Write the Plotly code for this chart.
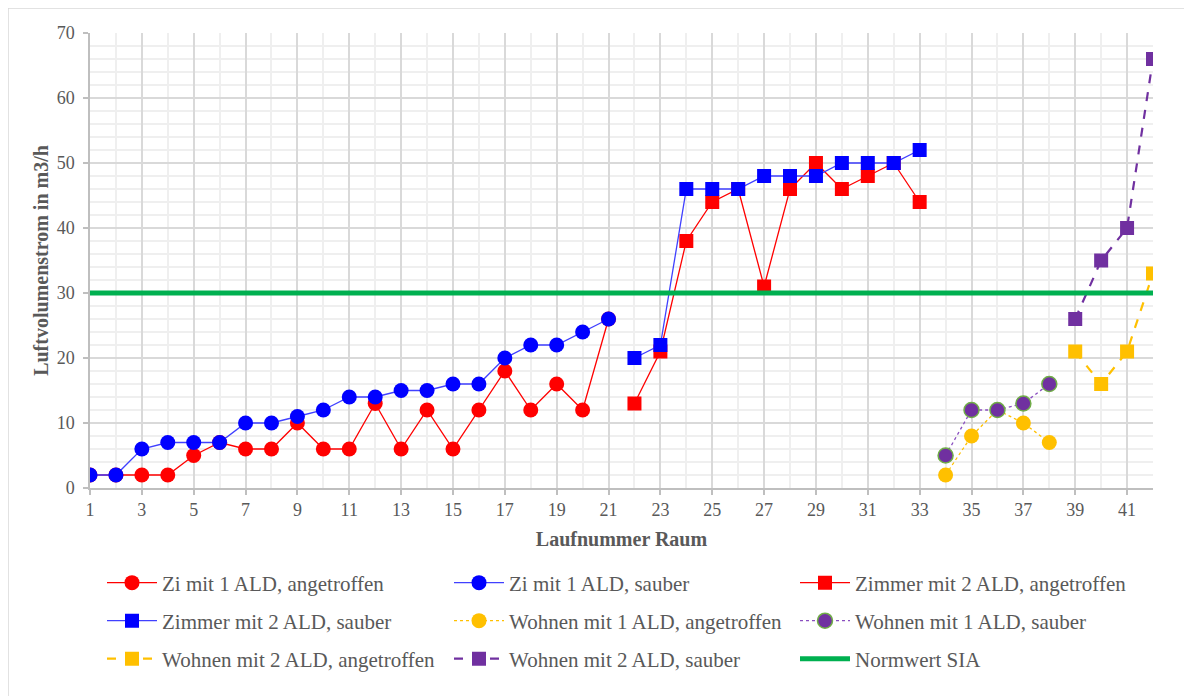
import plotly.graph_objects as go

# ---------------- data ----------------
x_zi1 = [1, 2, 3, 4, 5, 6, 7, 8, 9, 10, 11, 12, 13, 14, 15, 16, 17, 18, 19, 20, 21]
zi1_angetroffen = [2, 2, 2, 2, 5, 7, 6, 6, 10, 6, 6, 13, 6, 12, 6, 12, 18, 12, 16, 12, 26]
zi1_sauber = [2, 2, 6, 7, 7, 7, 10, 10, 11, 12, 14, 14, 15, 15, 16, 16, 20, 22, 22, 24, 26]

x_zi2 = [22, 23, 24, 25, 26, 27, 28, 29, 30, 31, 32, 33]
zi2_angetroffen = [13, 21, 38, 44, 46, 31, 46, 50, 46, 48, 50, 44]
zi2_sauber = [20, 22, 46, 46, 46, 48, 48, 48, 50, 50, 50, 52]

x_wo1 = [34, 35, 36, 37, 38]
wo1_angetroffen = [2, 8, 12, 10, 7]
wo1_sauber = [5, 12, 12, 13, 16]

x_wo2 = [39, 40, 41, 42]
wo2_angetroffen = [21, 16, 21, 33]
wo2_sauber = [26, 35, 40, 66]

x_norm = [1, 42]
norm_sia = [30, 30]

x_ticks = [1, 3, 5, 7, 9, 11, 13, 15, 17, 19, 21, 23, 25, 27, 29, 31, 33, 35, 37, 39, 41]
y_ticks = [0, 10, 20, 30, 40, 50, 60, 70]

# ---------------- layout constants ----------------
W, H = 1192, 696
OFF = 8  # page body margin
PL, PR, PT, PB = 90, 1153, 33, 488   # plot area in screen pixels
ML, MT = PL - OFF, PT - OFF
PW, PH = PR - PL, PB - PT
MR = W - ML - PW
MB = H - MT - PH
SERIF = "Liberation Serif, Times New Roman, serif"
TXT = "#595959"
ITEMW = 50
TEXT_OFF = ITEMW + 11
COL_TEXT_X = [163, 510, 856]
ROW_Y = [583, 621, 659]

def px_x(p):
    return (p - PL) / PW

def px_y(p):
    return (PB - p) / PH

fig = go.Figure()
legend_layout = {}
slot = [0]

def next_legend():
    i = slot[0]
    slot[0] += 1
    key = "legend" if i == 0 else f"legend{i + 1}"
    row, col = divmod(i, 3)
    legend_layout[key] = dict(
        orientation="h", x=px_x(COL_TEXT_X[col] - TEXT_OFF), xanchor="left",
        y=px_y(ROW_Y[row]), yanchor="middle",
        font=dict(family=SERIF, size=21, color=TXT), itemwidth=ITEMW,
        bgcolor="rgba(0,0,0,0)", itemclick=False, itemdoubleclick=False)
    return key

def add(x, y, name, color, symbol, dash, lw, lcolor=None, ms=15, mline=None):
    fig.add_trace(go.Scatter(
        x=x, y=y, name=name, mode="lines+markers",
        line=dict(color=lcolor or color, width=lw, dash=dash),
        marker=dict(color=color, symbol=symbol, size=ms,
                    line=mline or dict(width=0)),
        legend=next_legend(),
    ))

add(x_zi1, zi1_angetroffen, "Zi mit 1 ALD, angetroffen", "#ff0000", "circle", "solid", 1.3)
add(x_zi1, zi1_sauber, "Zi mit 1 ALD, sauber", "#0000ff", "circle", "solid", 1.3, lcolor="#4040ff")
add(x_zi2, zi2_angetroffen, "Zimmer mit 2 ALD, angetroffen", "#ff0000", "square", "solid", 1.3, ms=14)
add(x_zi2, zi2_sauber, "Zimmer mit 2 ALD, sauber", "#0000ff", "square", "solid", 1.3, lcolor="#4040ff", ms=14)
add(x_wo1, wo1_angetroffen, "Wohnen mit 1 ALD, angetroffen", "#ffc000", "circle", "dot", 1.3, ms=15)
add(x_wo1, wo1_sauber, "Wohnen mit 1 ALD, sauber", "#7030a0", "circle", "dot", 1.3, lcolor="#8a4fc0",
    ms=15, mline=dict(color="#70ad47", width=1.5))
add(x_wo2, wo2_angetroffen, "Wohnen mit 2 ALD, angetroffen", "#ffc000", "square", "dash", 2.2, ms=14)
add(x_wo2, wo2_sauber, "Wohnen mit 2 ALD, sauber", "#7030a0", "square", "dash", 2.2, ms=14)
fig.add_trace(go.Scatter(x=x_norm, y=norm_sia, name="Normwert SIA", mode="lines",
                         line=dict(color="#00b050", width=5), legend=next_legend()))

fig.update_layout(
    width=W, height=H,
    margin=dict(l=ML, r=MR, t=MT, b=MB),
    paper_bgcolor="white", plot_bgcolor="white",
    showlegend=True,
    **legend_layout,
    xaxis=dict(
        range=[1, 42], tickmode="array", tickvals=x_ticks, ticktext=[str(v) for v in x_ticks],
        showgrid=True, gridcolor="#d9d9d9", gridwidth=1.5,
        minor=dict(dtick=1, tick0=0, showgrid=True, gridcolor="#efefef", gridwidth=1.5),
        showline=True, linecolor="#bfbfbf", linewidth=1.5, zeroline=False,
        ticks="outside", ticklen=5, tickcolor="#bfbfbf", tickwidth=1.5,
        tickfont=dict(family=SERIF, size=18, color=TXT),
        title=dict(text="<b>Laufnummer Raum</b>", font=dict(family=SERIF, size=20, color=TXT), standoff=13),
    ),
    yaxis=dict(
        range=[0, 70], tickmode="array", tickvals=y_ticks,
        showgrid=True, gridcolor="#d9d9d9", gridwidth=1.5,
        minor=dict(dtick=2, tick0=0, showgrid=True, gridcolor="#efefef", gridwidth=1.5),
        showline=True, linecolor="#bfbfbf", linewidth=1.5, zeroline=False,
        ticks="outside", ticklen=5, tickcolor="#bfbfbf", tickwidth=1.5, ticklabelstandoff=5,
        tickfont=dict(family=SERIF, size=18, color=TXT),
        title=dict(text="<b>Luftvolumenstrom in m3/h</b>", font=dict(family=SERIF, size=20, color=TXT), standoff=3),
    ),
    shapes=[dict(type="rect", xref="paper", yref="paper",
                 x0=px_x(8), x1=px_x(W + 20), y0=px_y(H + 20), y1=px_y(8),
                 line=dict(color="#d9d9d9", width=1.5), fillcolor="rgba(0,0,0,0)", layer="below")],
)

fig.write_html("out.html")
